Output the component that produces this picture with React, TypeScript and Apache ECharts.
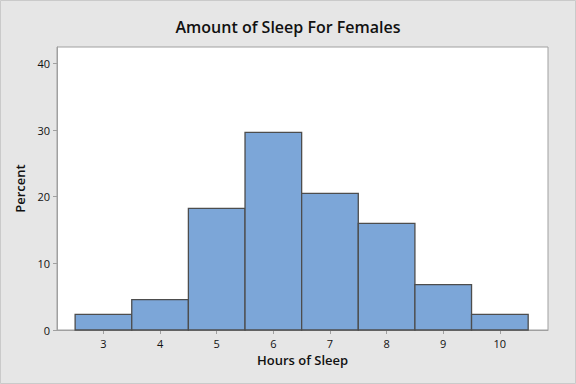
import React, { useEffect, useRef } from "react";
import * as echarts from "echarts";

const hours = [3, 4, 5, 6, 7, 8, 9, 10];
const percents = [2.35, 4.55, 18.25, 29.65, 20.5, 16.0, 6.8, 2.35];
const yTicks = [0, 10, 20, 30, 40];

const FONT = "'Open Sans', 'DejaVu Sans', sans-serif";

export default function App() {
  const ref = useRef<HTMLDivElement>(null);
  useEffect(() => {
    if (!ref.current) return;
    const chart = echarts.init(ref.current, null, { renderer: "svg" });
    const data = hours.map((h, i) => [h, percents[i]]);
    chart.setOption({
      animation: false,
      backgroundColor: "#e6e6e6",
      graphic: [
        {
          type: "rect",
          silent: true,
          z: -1,
          shape: { x: 0.5, y: 0.5, width: 575, height: 383 },
          style: { fill: "none", stroke: "#cacaca", lineWidth: 1 },
        },
      ],
      title: {
        text: "Amount of Sleep For Females",
        left: "center",
        top: 14,
        textStyle: { fontFamily: FONT, fontSize: 16, fontWeight: 600, color: "#111" },
      },
      grid: {
        left: 57,
        right: 28,
        top: 47,
        bottom: 54,
        show: true,
        backgroundColor: "#ffffff",
        borderColor: "#a0a0a0",
        borderWidth: 1,
      },
      xAxis: {
        type: "value",
        min: 2.18,
        max: 10.85,
        interval: 1,
        name: "Hours of Sleep",
        nameLocation: "middle",
        nameGap: 20,
        nameTextStyle: { fontFamily: FONT, fontSize: 13, fontWeight: 600, color: "#111" },
        axisLine: { show: true, lineStyle: { color: "#a0a0a0" } },
        axisTick: { show: true, length: 4, lineStyle: { color: "#a0a0a0" }, customValues: hours },
        splitLine: { show: false },
        axisLabel: {
          fontFamily: FONT,
          fontSize: 11,
          color: "#111",
          margin: 8,
          customValues: hours,
          formatter: (v: number) => String(v),
        },
      },
      yAxis: {
        type: "value",
        min: 0,
        max: 42.45,
        interval: 10,
        name: "Percent",
        nameLocation: "middle",
        nameGap: 31,
        nameTextStyle: { fontFamily: FONT, fontSize: 13, fontWeight: 600, color: "#111" },
        axisLine: { show: true, lineStyle: { color: "#a0a0a0" } },
        axisTick: { show: true, length: 4, lineStyle: { color: "#a0a0a0" }, customValues: yTicks },
        splitLine: { show: false },
        axisLabel: {
          fontFamily: FONT,
          fontSize: 11,
          color: "#111",
          margin: 7,
          customValues: yTicks,
        },
      },
      series: [
        {
          type: "custom",
          data,
          encode: { x: 0, y: 1 },
          renderItem: (params: any, api: any) => {
            const x = api.value(0);
            const y = api.value(1);
            const p1 = api.coord([x - 0.5, y]);
            const p2 = api.coord([x + 0.5, 0]);
            return {
              type: "rect",
              shape: { x: p1[0], y: p1[1], width: p2[0] - p1[0], height: p2[1] - p1[1] },
              style: { fill: "#7ca6d8", stroke: "#4d4d4d", lineWidth: 1.3 },
            };
          },
        },
      ],
    });
    return () => chart.dispose();
  }, []);
  return (
    <div
      ref={ref}
      style={{
        position: "fixed",
        left: 0,
        top: 0,
        width: 576,
        height: 384,
      }}
    />
  );
}
